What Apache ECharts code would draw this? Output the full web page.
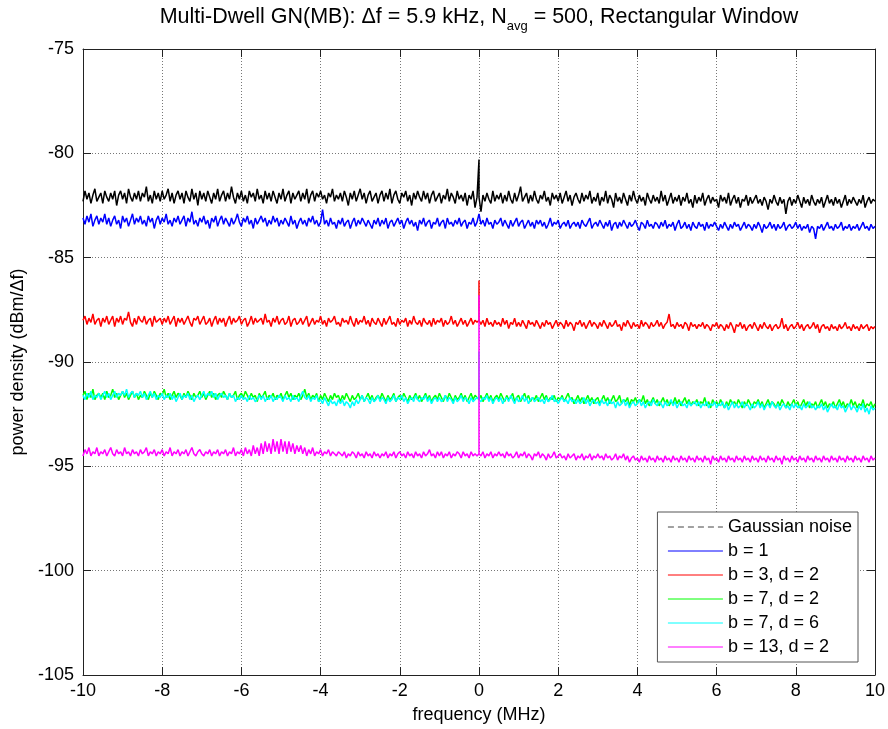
<!DOCTYPE html>
<html>
<head>
<meta charset="utf-8">
<script src="https://cdn.jsdelivr.net/npm/echarts@6/dist/echarts.min.js"></script>
<style>html,body{margin:0;padding:0;background:#fff}#c{width:888px;height:729px}</style>
</head>
<body>
<div id="c"></div>
<script>
// ---- data (dBm/Δf), sampled every 0.05 MHz from -10 to 10 MHz ----
const FREQ_START = -10, FREQ_STEP = 0.05;
const SERIES_NAMES = ['Gaussian noise', 'b = 1', 'b = 3, d = 2', 'b = 7, d = 2', 'b = 7, d = 6', 'b = 13, d = 2'];
const SPIKE_FREQ = 0;
const SPIKES = [-80.3, null, -86.1, null, -89.5, -86.8];

const gaussNoise = [
-82.3,-81.8,-82.2,-81.9,-82.4,-82.0,-81.7,-82.3,-82.1,-81.9,
-82.4,-81.8,-82.1,-82.3,-81.9,-82.2,-81.8,-82.5,-82.0,-81.8,
-82.2,-81.9,-82.4,-81.7,-82.1,-82.3,-81.9,-82.2,-81.8,-82.3,
-81.9,-82.1,-81.6,-82.3,-82.0,-82.4,-81.8,-82.2,-81.9,-82.3,
-81.8,-82.2,-82.0,-81.7,-82.3,-81.9,-82.4,-82.0,-81.8,-82.2,
-81.9,-82.4,-81.8,-82.1,-82.3,-81.7,-82.2,-81.9,-82.5,-81.8,
-82.2,-81.9,-82.3,-81.8,-82.1,-82.4,-81.9,-82.2,-81.7,-82.3,
-82.0,-81.8,-82.3,-81.9,-82.2,-81.6,-82.1,-82.4,-81.9,-82.2,
-81.8,-82.3,-82.0,-82.4,-81.8,-82.1,-81.9,-82.3,-81.7,-82.2,
-82.0,-82.4,-81.8,-82.2,-81.9,-82.3,-81.8,-82.1,-82.4,-81.9,
-82.2,-81.7,-82.3,-82.0,-81.8,-82.4,-81.9,-82.2,-82.0,-81.8,
-82.3,-81.9,-82.2,-81.7,-82.4,-82.0,-81.8,-82.3,-81.9,-82.1,
-81.8,-82.2,-82.0,-82.4,-81.9,-82.1,-81.7,-82.3,-82.0,-82.2,
-81.9,-82.3,-81.8,-82.1,-82.5,-81.9,-82.2,-81.8,-82.3,-82.0,
-81.7,-82.2,-81.9,-82.4,-82.0,-81.8,-82.3,-82.1,-81.9,-82.4,
-82.0,-81.8,-82.3,-81.9,-82.2,-81.7,-82.4,-82.0,-81.8,-82.2,
-82.4,-81.9,-82.1,-81.8,-82.3,-82.0,-82.5,-81.9,-82.2,-81.8,
-82.1,-82.3,-81.8,-82.2,-81.9,-82.4,-82.0,-81.8,-82.3,-82.1,
-81.9,-82.4,-82.0,-82.2,-81.7,-82.3,-81.9,-82.1,-82.4,-81.8,
-82.2,-82.0,-82.3,-81.9,-82.5,-82.0,-82.2,-81.8,-82.6,-82.1,
-82.1,-82.8,-82.0,-82.3,-81.9,-82.2,-82.4,-81.8,-82.3,-82.0,
-82.2,-81.9,-82.4,-82.0,-82.3,-81.8,-82.2,-82.4,-81.9,-82.3,
-82.0,-81.6,-82.3,-82.1,-81.9,-82.4,-82.0,-82.3,-81.8,-82.2,
-82.4,-82.0,-82.2,-81.8,-82.3,-82.1,-82.5,-81.9,-82.2,-82.0,
-82.3,-81.9,-82.4,-82.1,-81.8,-82.3,-82.0,-82.5,-82.1,-81.9,
-82.2,-82.4,-81.9,-82.3,-82.0,-82.2,-81.8,-82.4,-82.1,-82.3,
-81.9,-82.5,-82.1,-82.3,-81.8,-82.4,-82.0,-82.2,-82.6,-81.9,
-82.3,-82.1,-82.4,-81.9,-82.2,-82.5,-82.0,-82.3,-81.8,-82.2,
-82.4,-82.0,-82.3,-82.1,-82.5,-81.9,-82.2,-82.4,-82.0,-82.3,
-82.1,-82.4,-81.8,-82.3,-82.0,-82.5,-82.2,-81.9,-82.4,-82.1,
-82.3,-82.0,-82.5,-82.1,-82.3,-81.9,-82.4,-82.2,-82.6,-82.0,
-82.4,-82.1,-82.3,-81.9,-82.5,-82.2,-82.0,-82.4,-82.1,-82.3,
-82.2,-82.6,-82.0,-82.3,-82.1,-82.4,-81.9,-82.5,-82.2,-82.0,
-82.4,-82.1,-82.6,-82.2,-82.3,-82.0,-82.5,-82.1,-82.4,-82.2,
-82.0,-82.4,-82.2,-82.5,-82.1,-82.3,-82.7,-82.2,-82.4,-82.0,
-82.3,-82.5,-82.1,-82.4,-82.2,-82.9,-82.3,-82.1,-82.5,-82.2,
-82.4,-82.0,-82.3,-82.6,-82.1,-82.4,-82.2,-82.5,-82.0,-82.3,
-82.5,-82.2,-82.4,-82.1,-82.6,-82.3,-82.0,-82.4,-82.2,-82.5,
-82.1,-82.4,-82.2,-82.6,-82.3,-82.0,-82.5,-82.2,-82.4,-82.1,
-82.3,-82.5,-82.2,-82.4,-82.0,-82.6,-82.3,-82.1,-82.4,-82.2,
-82.3];

const b1 = [
-83.1,-83.4,-83.0,-83.3,-82.9,-83.5,-83.2,-83.0,-83.4,-83.1,
-83.3,-82.9,-83.4,-83.1,-83.5,-83.2,-83.0,-83.4,-83.2,-83.6,
-83.0,-83.3,-83.1,-83.5,-83.2,-82.9,-83.4,-83.1,-83.3,-83.0,
-83.4,-83.2,-83.5,-83.0,-83.3,-83.1,-83.6,-83.2,-83.0,-83.4,
-83.1,-83.3,-82.9,-83.4,-83.2,-83.5,-83.1,-83.3,-83.0,-83.4,
-83.2,-83.0,-83.5,-83.1,-83.3,-82.8,-83.4,-83.2,-83.5,-83.1,
-83.3,-83.0,-83.4,-83.2,-83.6,-83.1,-83.3,-83.0,-83.5,-83.2,
-83.0,-83.4,-83.1,-83.3,-83.5,-83.1,-83.4,-83.2,-82.9,-83.3,
-83.5,-83.1,-83.3,-83.0,-83.4,-83.2,-83.6,-83.1,-83.4,-83.2,
-83.0,-83.3,-83.1,-83.5,-83.2,-83.4,-83.0,-83.3,-83.1,-83.5,
-83.2,-83.4,-83.1,-83.3,-83.5,-83.0,-83.4,-83.2,-83.6,-83.3,
-83.1,-83.4,-83.2,-83.5,-83.1,-83.3,-83.0,-83.4,-83.2,-83.5,
-83.3,-82.7,-83.4,-83.2,-83.5,-83.1,-83.4,-83.3,-83.6,-83.2,
-83.4,-83.1,-83.5,-83.3,-83.2,-83.6,-83.3,-83.1,-83.5,-83.2,
-83.4,-83.1,-83.3,-83.5,-83.2,-83.4,-83.6,-83.2,-83.4,-83.1,
-83.5,-83.2,-83.4,-83.1,-83.6,-83.3,-83.2,-83.5,-83.3,-83.1,
-83.4,-83.2,-83.6,-83.3,-83.1,-83.4,-83.2,-83.5,-83.3,-83.7,
-83.2,-83.4,-83.1,-83.5,-83.3,-83.2,-83.6,-83.3,-83.4,-83.1,
-83.5,-83.3,-83.2,-83.6,-83.1,-83.4,-83.3,-83.5,-83.2,-83.4,
-83.1,-83.5,-83.3,-83.2,-83.6,-83.3,-83.4,-83.1,-83.5,-83.3,
-82.9,-83.4,-83.2,-83.5,-83.1,-83.4,-83.3,-83.6,-83.2,-83.4,
-83.3,-83.1,-83.5,-83.2,-83.4,-83.6,-83.2,-83.5,-83.3,-83.1,
-83.5,-83.3,-83.2,-83.6,-83.4,-83.2,-83.5,-83.3,-83.6,-83.2,
-83.4,-83.2,-83.5,-83.3,-83.6,-83.4,-83.1,-83.5,-83.3,-83.4,
-83.2,-83.6,-83.4,-83.3,-83.5,-83.2,-83.6,-83.4,-83.3,-83.5,
-83.3,-83.6,-83.2,-83.4,-83.5,-83.3,-83.1,-83.6,-83.4,-83.3,
-83.5,-83.2,-83.4,-83.6,-83.3,-83.5,-83.2,-83.7,-83.4,-83.3,
-83.6,-83.3,-83.5,-83.2,-83.4,-83.6,-83.3,-83.5,-83.4,-83.2,
-83.5,-83.7,-83.3,-83.4,-83.6,-83.2,-83.5,-83.4,-83.6,-83.3,
-83.4,-83.6,-83.3,-83.5,-83.2,-83.6,-83.4,-83.5,-83.3,-83.7,
-83.4,-83.2,-83.6,-83.5,-83.3,-83.6,-83.4,-83.7,-83.3,-83.5,
-83.6,-83.3,-83.5,-83.4,-83.7,-83.3,-83.6,-83.4,-83.5,-83.3,
-83.5,-83.7,-83.4,-83.6,-83.3,-83.5,-83.7,-83.4,-83.6,-83.3,
-83.5,-83.4,-83.7,-83.5,-83.3,-83.6,-83.4,-83.5,-83.7,-83.4,
-83.6,-83.3,-83.5,-83.8,-83.4,-83.6,-83.5,-83.3,-83.6,-83.4,
-83.7,-83.4,-83.6,-83.5,-83.3,-83.7,-83.5,-83.4,-83.6,-83.5,
-83.3,-83.6,-83.4,-83.7,-83.5,-83.6,-83.4,-83.8,-83.5,-83.6,
-84.1,-83.5,-83.6,-83.4,-83.7,-83.5,-83.3,-83.6,-83.5,-83.7,
-83.4,-83.6,-83.5,-83.3,-83.7,-83.5,-83.6,-83.4,-83.7,-83.5,
-83.6,-83.4,-83.7,-83.5,-83.3,-83.6,-83.5,-83.7,-83.4,-83.6,
-83.5];

const b3d2 = [
-88.0,-87.8,-88.2,-87.9,-88.1,-87.7,-88.2,-88.0,-87.9,-88.3,
-87.9,-88.1,-87.8,-88.2,-88.0,-87.8,-88.3,-87.9,-88.1,-87.8,
-88.2,-87.9,-88.0,-87.6,-88.1,-88.3,-87.9,-88.2,-87.8,-88.0,
-88.1,-87.8,-88.2,-88.0,-87.9,-88.3,-87.8,-88.1,-88.0,-87.9,
-88.2,-87.9,-88.1,-87.8,-88.2,-88.0,-87.8,-88.3,-87.9,-88.1,
-87.9,-88.2,-88.0,-87.8,-88.1,-88.3,-87.9,-88.0,-87.8,-88.2,
-88.0,-87.8,-88.2,-88.1,-87.9,-88.3,-88.0,-87.8,-88.2,-87.9,
-88.1,-87.9,-88.3,-88.0,-87.8,-88.2,-87.9,-88.1,-88.0,-87.8,
-88.2,-88.0,-87.9,-88.3,-88.1,-87.8,-88.2,-87.9,-88.1,-88.0,
-87.9,-88.2,-87.7,-88.1,-88.0,-88.3,-87.9,-88.1,-87.8,-88.2,
-88.0,-87.9,-88.2,-88.1,-87.8,-88.3,-88.0,-87.9,-88.2,-88.1,
-87.9,-88.2,-88.0,-87.8,-88.3,-88.1,-87.9,-88.2,-88.0,-88.1,
-87.8,-88.2,-88.0,-88.3,-87.9,-88.1,-88.0,-87.8,-88.2,-88.1,
-88.3,-87.9,-88.1,-88.0,-88.2,-87.8,-88.1,-88.3,-87.9,-88.2,
-88.0,-88.1,-87.8,-88.2,-88.0,-88.3,-87.9,-88.1,-88.2,-87.9,
-88.1,-88.3,-87.9,-88.2,-88.0,-87.8,-88.2,-88.1,-88.3,-87.9,
-88.2,-88.0,-88.1,-87.9,-88.3,-88.0,-88.2,-87.8,-88.1,-88.2,
-88.0,-88.3,-87.9,-88.1,-88.2,-88.0,-88.3,-87.9,-88.2,-88.0,
-88.1,-87.9,-88.3,-88.0,-88.2,-88.1,-87.8,-88.2,-88.0,-88.3,
-88.1,-87.9,-88.2,-88.0,-88.3,-88.1,-87.9,-88.2,-88.0,-88.1,
-88.0,-88.2,-88.0,-88.3,-87.9,-88.2,-88.1,-88.3,-88.0,-88.2,
-88.1,-88.3,-87.9,-88.2,-88.0,-88.4,-88.1,-88.2,-87.9,-88.3,
-88.1,-88.3,-88.0,-88.2,-88.4,-88.0,-88.2,-88.1,-88.3,-88.0,
-88.2,-88.4,-88.1,-88.3,-88.0,-88.2,-88.1,-88.4,-88.2,-88.0,
-88.3,-88.1,-88.2,-88.4,-88.0,-88.3,-88.1,-88.2,-88.5,-88.1,
-88.2,-88.0,-88.3,-88.1,-88.4,-88.2,-88.0,-88.3,-88.1,-88.2,
-88.4,-88.1,-88.3,-88.0,-88.2,-88.4,-88.1,-88.3,-88.2,-88.0,
-88.3,-88.2,-88.5,-88.1,-88.3,-88.0,-88.2,-88.4,-88.1,-88.3,
-88.2,-88.4,-88.0,-88.3,-88.1,-88.2,-88.4,-88.1,-88.3,-88.2,
-88.0,-88.3,-88.1,-88.4,-88.2,-88.1,-87.7,-88.3,-88.2,-88.4,
-88.1,-88.3,-88.2,-88.4,-88.1,-88.2,-88.5,-88.1,-88.3,-88.2,
-88.4,-88.2,-88.3,-88.1,-88.4,-88.2,-88.3,-88.5,-88.2,-88.3,
-88.1,-88.4,-88.2,-88.3,-88.5,-88.2,-88.4,-88.1,-88.3,-88.6,
-88.2,-88.3,-88.1,-88.4,-88.2,-88.5,-88.3,-88.2,-88.4,-88.1,
-88.3,-88.5,-88.2,-88.4,-88.1,-88.3,-88.4,-88.2,-88.5,-88.3,
-88.2,-88.4,-88.3,-87.9,-88.4,-88.2,-88.5,-88.3,-88.2,-88.4,
-88.3,-88.1,-88.4,-88.2,-88.5,-88.3,-88.2,-88.4,-88.3,-88.1,
-88.4,-88.2,-88.6,-88.3,-88.2,-88.4,-88.3,-88.5,-88.2,-88.4,
-88.3,-88.5,-88.2,-88.4,-88.3,-88.1,-88.4,-88.3,-88.5,-88.2,
-88.4,-88.3,-88.5,-88.2,-88.4,-88.3,-88.2,-88.5,-88.3,-88.4,
-88.3];

const b7d2 = [
-91.6,-91.4,-91.8,-91.5,-91.7,-91.3,-91.8,-91.6,-91.5,-91.7,
-91.5,-91.8,-91.4,-91.7,-91.6,-91.3,-91.7,-91.5,-91.8,-91.6,
-91.4,-91.7,-91.5,-91.8,-91.6,-91.4,-91.7,-91.5,-91.8,-91.6,
-91.7,-91.4,-91.6,-91.8,-91.5,-91.7,-91.4,-91.6,-91.8,-91.5,
-91.6,-91.3,-91.7,-91.5,-91.8,-91.6,-91.4,-91.7,-91.5,-91.6,
-91.8,-91.5,-91.7,-91.4,-91.6,-91.8,-91.5,-91.7,-91.6,-91.4,
-91.7,-91.5,-91.8,-91.6,-91.4,-91.7,-91.5,-91.8,-91.6,-91.5,
-91.7,-91.4,-91.6,-91.8,-91.5,-91.7,-91.6,-91.4,-91.8,-91.6,
-91.5,-91.7,-91.4,-91.6,-91.8,-91.5,-91.7,-91.6,-91.9,-91.5,
-91.7,-91.6,-91.4,-91.8,-91.6,-91.7,-91.5,-91.8,-91.6,-91.7,
-91.5,-91.8,-91.6,-91.4,-91.7,-91.5,-91.8,-91.6,-91.7,-91.5,
-91.8,-91.6,-91.3,-91.7,-91.5,-91.8,-91.6,-91.7,-91.5,-91.9,
-91.6,-91.8,-91.5,-91.7,-91.9,-91.6,-91.8,-91.5,-91.7,-91.6,
-91.9,-91.6,-91.8,-91.5,-91.7,-91.9,-91.6,-91.8,-91.7,-91.5,
-91.8,-91.6,-91.9,-91.7,-91.5,-91.8,-91.6,-91.9,-91.7,-91.6,
-91.8,-91.5,-91.7,-91.9,-91.6,-91.8,-91.7,-91.5,-91.9,-91.7,
-91.6,-91.8,-91.5,-91.7,-91.9,-91.6,-91.8,-91.7,-91.5,-91.8,
-91.6,-91.9,-91.7,-91.5,-91.8,-91.6,-91.9,-91.7,-91.6,-91.8,
-91.5,-91.7,-91.9,-91.6,-91.8,-91.5,-91.7,-91.9,-91.6,-91.8,
-91.7,-91.5,-91.8,-91.6,-91.9,-91.7,-91.5,-91.8,-91.6,-91.7,
-91.8,-91.6,-91.9,-91.7,-91.5,-91.8,-91.6,-91.9,-91.7,-91.6,
-91.8,-91.5,-91.7,-91.9,-91.6,-91.8,-91.7,-91.5,-91.9,-91.7,
-91.6,-91.9,-91.7,-91.5,-91.8,-91.6,-91.9,-91.7,-91.8,-91.6,
-91.9,-91.7,-91.5,-91.8,-91.6,-91.9,-91.7,-91.8,-91.6,-91.9,
-91.7,-91.8,-91.6,-91.9,-91.7,-91.5,-91.8,-91.7,-92.0,-91.8,
-91.6,-91.9,-91.7,-92.0,-91.8,-91.6,-91.9,-91.7,-92.0,-91.8,
-91.7,-92.0,-91.8,-91.6,-91.9,-91.7,-92.0,-91.8,-91.6,-91.9,
-91.8,-91.6,-92.0,-91.8,-91.9,-91.7,-92.1,-91.8,-91.9,-91.7,
-92.0,-91.8,-91.9,-91.6,-92.0,-91.8,-92.1,-91.9,-91.7,-92.0,
-91.8,-92.1,-91.9,-91.7,-92.0,-91.8,-92.1,-91.9,-92.0,-91.7,
-92.0,-91.8,-92.1,-91.9,-91.7,-92.0,-91.8,-92.1,-91.9,-92.0,
-91.8,-92.1,-91.9,-92.0,-91.7,-92.1,-91.9,-92.2,-91.8,-92.0,
-91.9,-92.1,-91.8,-92.0,-92.2,-91.9,-92.1,-91.8,-92.0,-91.9,
-92.1,-91.8,-92.0,-92.2,-91.9,-92.1,-91.8,-92.0,-92.2,-91.9,
-92.0,-91.8,-92.1,-91.9,-92.2,-92.0,-91.8,-92.1,-91.9,-92.0,
-92.2,-91.9,-92.1,-91.8,-92.0,-92.2,-91.9,-92.1,-92.0,-91.8,
-92.1,-91.9,-92.2,-92.0,-91.8,-92.1,-91.9,-92.2,-92.0,-92.1,
-91.9,-92.2,-92.0,-91.8,-92.1,-91.9,-92.2,-92.0,-92.1,-91.9,
-92.2,-92.0,-91.8,-92.1,-91.9,-92.2,-92.0,-92.1,-91.8,-92.1,
-91.9,-92.2,-92.0,-92.1,-91.8,-92.2,-92.0,-92.1,-91.9,-92.2,
-92.0];

const b7d6 = [
-91.6,-91.8,-91.5,-91.7,-91.4,-91.8,-91.6,-91.7,-91.5,-91.8,
-91.6,-91.4,-91.7,-91.5,-91.8,-91.6,-91.4,-91.7,-91.5,-91.6,
-91.4,-91.6,-91.3,-91.7,-91.5,-91.4,-91.7,-91.5,-91.6,-91.4,
-91.7,-91.5,-91.8,-91.6,-91.4,-91.7,-91.5,-91.8,-91.6,-91.7,
-91.5,-91.8,-91.6,-91.7,-91.5,-91.8,-91.6,-91.9,-91.7,-91.5,
-91.8,-91.6,-91.7,-91.5,-91.8,-91.6,-91.9,-91.7,-91.6,-91.8,
-91.6,-91.4,-91.7,-91.5,-91.6,-91.4,-91.7,-91.5,-91.8,-91.6,
-91.5,-91.7,-91.6,-91.8,-91.5,-91.7,-91.6,-91.9,-91.7,-91.8,
-91.6,-91.8,-91.7,-91.9,-91.6,-91.8,-91.7,-91.9,-91.8,-91.6,
-91.8,-91.6,-91.9,-91.7,-91.8,-91.6,-91.9,-91.7,-91.8,-91.6,
-91.7,-91.9,-91.6,-91.8,-91.7,-91.9,-91.6,-91.8,-91.7,-91.9,
-91.6,-91.4,-91.7,-91.8,-91.6,-91.9,-91.7,-91.8,-91.6,-91.9,
-91.8,-92.0,-91.7,-91.9,-92.1,-91.8,-92.0,-91.9,-92.1,-91.8,
-92.0,-91.8,-92.1,-91.9,-92.0,-92.2,-91.9,-92.1,-91.8,-92.0,
-91.8,-91.6,-91.9,-91.7,-91.8,-92.0,-91.7,-91.9,-91.8,-91.6,
-91.9,-91.7,-91.8,-92.0,-91.7,-91.9,-91.8,-91.6,-91.9,-91.7,
-91.8,-91.6,-91.9,-91.7,-92.0,-91.8,-91.7,-91.9,-91.6,-91.8,
-91.9,-91.7,-91.8,-91.6,-91.9,-91.7,-92.0,-91.8,-91.7,-91.9,
-91.7,-91.9,-91.8,-91.6,-91.9,-91.7,-91.8,-92.0,-91.7,-91.9,
-91.8,-91.6,-91.9,-91.7,-91.8,-92.0,-91.7,-91.9,-91.8,-91.7,
-91.8,-91.9,-91.7,-91.8,-91.6,-91.9,-91.7,-92.0,-91.8,-91.7,
-91.9,-91.7,-92.0,-91.8,-91.7,-91.9,-91.6,-91.8,-92.0,-91.7,
-91.9,-91.8,-91.6,-91.9,-91.7,-92.0,-91.8,-91.7,-91.9,-91.8,
-91.7,-91.9,-91.8,-92.0,-91.7,-91.9,-91.8,-91.6,-91.9,-91.8,
-92.0,-91.8,-91.7,-91.9,-91.8,-92.0,-91.7,-91.9,-91.8,-92.0,
-91.8,-92.0,-91.9,-91.7,-92.0,-91.8,-92.1,-91.9,-91.8,-92.0,
-91.9,-92.1,-91.8,-92.0,-91.9,-92.1,-91.8,-92.0,-91.9,-92.2,
-91.9,-92.1,-92.0,-91.8,-92.1,-91.9,-92.2,-92.0,-91.9,-92.1,
-92.0,-91.8,-92.1,-91.9,-92.2,-92.0,-91.9,-92.1,-91.8,-92.0,
-92.1,-91.9,-92.0,-92.2,-91.9,-92.1,-92.0,-91.8,-92.1,-91.9,
-92.2,-92.0,-91.9,-92.1,-92.0,-92.2,-91.9,-92.1,-92.0,-91.9,
-92.1,-91.9,-92.2,-92.0,-92.1,-91.9,-92.2,-92.0,-92.1,-91.9,
-92.2,-92.0,-92.1,-91.9,-92.2,-92.0,-92.3,-92.1,-91.9,-92.2,
-92.0,-92.2,-92.1,-91.9,-92.2,-92.0,-92.1,-92.3,-92.0,-92.2,
-92.1,-91.9,-92.2,-92.0,-92.3,-92.1,-92.0,-92.2,-91.9,-92.1,
-92.2,-92.0,-92.3,-92.1,-92.0,-92.2,-92.1,-92.3,-92.0,-92.2,
-92.0,-92.2,-92.1,-92.3,-92.0,-92.2,-92.1,-91.9,-92.2,-92.1,
-92.3,-92.1,-92.2,-92.0,-92.3,-92.1,-92.4,-92.2,-92.0,-92.2,
-92.1,-92.3,-92.0,-92.2,-92.1,-92.4,-92.2,-92.0,-92.3,-92.1,
-92.2,-92.4,-92.1,-92.3,-92.0,-92.4,-92.2,-92.5,-92.1,-92.3,
-92.2];

const b13d2 = [
-94.5,-94.2,-94.4,-94.1,-94.5,-94.3,-94.4,-94.1,-94.5,-94.3,
-94.4,-94.2,-94.5,-94.3,-94.1,-94.4,-94.5,-94.2,-94.4,-94.3,
-94.5,-94.1,-94.4,-94.3,-94.5,-94.2,-94.4,-94.3,-94.5,-94.2,
-94.4,-94.3,-94.1,-94.5,-94.3,-94.4,-94.2,-94.5,-94.3,-94.4,
-94.2,-94.5,-94.3,-94.4,-94.1,-94.5,-94.3,-94.4,-94.2,-94.5,
-94.3,-94.4,-94.2,-94.5,-94.3,-94.1,-94.4,-94.5,-94.3,-94.2,
-94.4,-94.5,-94.3,-94.4,-94.2,-94.5,-94.3,-94.4,-94.2,-94.5,
-94.3,-94.4,-94.2,-94.5,-94.3,-94.4,-94.1,-94.5,-94.3,-94.4,
-94.2,-94.5,-94.1,-94.4,-94.2,-94.5,-94.0,-94.4,-94.1,-94.5,
-93.9,-94.4,-93.8,-94.3,-93.9,-94.4,-93.7,-94.3,-93.8,-94.4,
-93.7,-94.3,-93.8,-94.4,-93.8,-94.3,-93.9,-94.4,-94.0,-94.3,
-94.0,-94.4,-94.1,-94.5,-94.2,-94.4,-94.1,-94.5,-94.3,-94.4,
-94.2,-94.5,-94.3,-94.4,-94.2,-94.5,-94.3,-94.4,-94.5,-94.3,
-94.4,-94.5,-94.3,-94.6,-94.4,-94.5,-94.3,-94.4,-94.6,-94.3,
-94.5,-94.4,-94.6,-94.3,-94.5,-94.4,-94.6,-94.3,-94.5,-94.4,
-94.6,-94.4,-94.5,-94.3,-94.6,-94.4,-94.5,-94.3,-94.6,-94.4,
-94.3,-94.5,-94.4,-94.6,-94.3,-94.5,-94.4,-94.6,-94.3,-94.5,
-94.4,-94.6,-94.3,-94.5,-94.4,-94.2,-94.5,-94.4,-94.6,-94.3,
-94.5,-94.3,-94.6,-94.4,-94.5,-94.3,-94.6,-94.4,-94.5,-94.3,
-94.4,-94.6,-94.3,-94.5,-94.4,-94.6,-94.3,-94.5,-94.4,-94.5,
-94.4,-94.5,-94.3,-94.6,-94.4,-94.5,-94.3,-94.6,-94.4,-94.5,
-94.3,-94.5,-94.4,-94.6,-94.3,-94.5,-94.4,-94.6,-94.5,-94.3,
-94.6,-94.4,-94.5,-94.3,-94.6,-94.4,-94.5,-94.7,-94.4,-94.5,
-94.3,-94.6,-94.4,-94.5,-94.7,-94.4,-94.6,-94.5,-94.3,-94.6,
-94.5,-94.4,-94.6,-94.5,-94.7,-94.4,-94.6,-94.5,-94.4,-94.7,
-94.5,-94.6,-94.4,-94.7,-94.5,-94.6,-94.4,-94.7,-94.5,-94.6,
-94.4,-94.6,-94.5,-94.7,-94.4,-94.6,-94.5,-94.7,-94.6,-94.4,
-94.7,-94.5,-94.6,-94.4,-94.7,-94.5,-94.8,-94.6,-94.5,-94.7,
-94.6,-94.8,-94.5,-94.7,-94.6,-94.8,-94.5,-94.7,-94.6,-94.8,
-94.5,-94.7,-94.6,-94.8,-94.5,-94.7,-94.6,-94.8,-94.5,-94.7,
-94.6,-94.8,-94.5,-94.7,-94.6,-94.8,-94.5,-94.7,-94.6,-94.8,
-94.5,-94.7,-94.6,-94.8,-94.5,-94.7,-94.6,-94.9,-94.5,-94.7,
-94.6,-94.8,-94.5,-94.7,-94.6,-94.8,-94.5,-94.7,-94.6,-94.8,
-94.5,-94.7,-94.6,-94.8,-94.5,-94.7,-94.6,-94.8,-94.5,-94.7,
-94.6,-94.8,-94.5,-94.7,-94.6,-94.8,-94.5,-94.7,-94.6,-94.8,
-94.5,-94.7,-94.6,-94.9,-94.5,-94.7,-94.6,-94.8,-94.5,-94.7,
-94.6,-94.8,-94.5,-94.7,-94.6,-94.8,-94.5,-94.7,-94.6,-94.8,
-94.5,-94.7,-94.6,-94.8,-94.5,-94.7,-94.6,-94.8,-94.5,-94.7,
-94.6,-94.8,-94.5,-94.7,-94.6,-94.8,-94.5,-94.7,-94.6,-94.8,
-94.5,-94.7,-94.6,-94.8,-94.5,-94.7,-94.6,-94.8,-94.5,-94.7,
-94.6];

const SERIES_VALUES = [gaussNoise, b1, b3d2, b7d2, b7d6, b13d2];
const COLORS = ['#000000', '#0000ff', '#ff0000', '#00ff00', '#00ffff', '#ff00ff'];
const X_TICKS = { min: -10, max: 10, interval: 2 };
const Y_TICKS = { min: -105, max: -75, interval: 5 };

function buildData(vals, spike) {
  const out = [];
  vals.forEach((v, i) => {
    const f = +(FREQ_START + i * FREQ_STEP).toFixed(3);
    out.push([f, v]);
    if (f === SPIKE_FREQ && spike != null) {
      out.push([f, spike]);
      out.push([f, v]);
    }
  });
  return out;
}

const FONT = '"Liberation Sans", Arial, Helvetica, sans-serif';
const chart = echarts.init(document.getElementById('c'), null, { renderer: 'canvas' });

const gridLine = { show: true, lineStyle: { color: '#777', type: [1, 2], width: 1 } };
const axisLine = { show: true, onZero: false, lineStyle: { color: '#222', width: 1 } };
const tick = { show: true, inside: true, length: 8, lineStyle: { color: '#222' } };

chart.setOption({
  animation: false,
  backgroundColor: '#fff',
  textStyle: { fontFamily: FONT },
  grid: { left: 83, right: 12, top: 49, bottom: 54, containLabel: false },
  graphic: [{
    type: 'text',
    x: 479, y: 6,
    style: {
      text: '{m|Multi-Dwell GN(MB): \u0394f = 5.9 kHz, N}{s|avg}{m| = 500, Rectangular Window}',
      align: 'center',
      verticalAlign: 'top',
      rich: {
        m: { fontFamily: FONT, fontSize: 21.5, fill: '#000', verticalAlign: 'top', lineHeight: 24 },
        s: { fontFamily: FONT, fontSize: 13, fill: '#000', verticalAlign: 'top', padding: [14, 0, 0, 0], lineHeight: 24 }
      }
    }
  }],
  legend: {
    right: 30, bottom: 67,
    orient: 'vertical',
    align: 'left',
    backgroundColor: '#fff',
    borderColor: '#555',
    borderWidth: 1,
    borderRadius: 0,
    padding: [6, 6, 6, 10],
    itemWidth: 55,
    itemHeight: 18,
    itemGap: 6,
    itemStyle: { opacity: 0 },
    lineStyle: { width: 1 },
    textStyle: { fontFamily: FONT, fontSize: 18, color: '#000' },
    data: SERIES_NAMES.map((n, i) => i === 0
      ? { name: n, itemStyle: { opacity: 0 }, lineStyle: { type: [6, 4], color: '#444', width: 1 } }
      : { name: n, itemStyle: { opacity: 0 }, lineStyle: { width: 1 } })
  },
  xAxis: [{
    type: 'value', position: 'bottom',
    min: X_TICKS.min, max: X_TICKS.max, interval: X_TICKS.interval,
    axisLine: axisLine, axisTick: tick,
    axisLabel: { fontFamily: FONT, fontSize: 18, color: '#000', margin: 7 },
    splitLine: gridLine,
    name: 'frequency (MHz)', nameLocation: 'middle', nameGap: 31,
    nameTextStyle: { fontFamily: FONT, fontSize: 18, color: '#000' }
  }, {
    type: 'value', position: 'top',
    min: X_TICKS.min, max: X_TICKS.max, interval: X_TICKS.interval,
    axisLine: axisLine, axisTick: tick,
    axisLabel: { show: false }, splitLine: { show: false }
  }],
  yAxis: [{
    type: 'value', position: 'left',
    min: Y_TICKS.min, max: Y_TICKS.max, interval: Y_TICKS.interval,
    axisLine: axisLine, axisTick: tick,
    axisLabel: { fontFamily: FONT, fontSize: 18, color: '#000', margin: 9 },
    splitLine: gridLine,
    name: 'power density (dBm/\u0394f)', nameLocation: 'middle', nameGap: 49,
    nameTextStyle: { fontFamily: FONT, fontSize: 18, color: '#000' }
  }, {
    type: 'value', position: 'right',
    min: Y_TICKS.min, max: Y_TICKS.max, interval: Y_TICKS.interval,
    axisLine: axisLine, axisTick: tick,
    axisLabel: { show: false }, splitLine: { show: false }
  }],
  series: SERIES_NAMES.map((n, i) => ({
    name: n,
    type: 'line',
    xAxisIndex: 0, yAxisIndex: 0,
    data: buildData(SERIES_VALUES[i], SPIKES[i]),
    symbol: 'none',
    showSymbol: false,
    smooth: false,
    lineStyle: { color: COLORS[i], width: 1.5 },
    itemStyle: { color: COLORS[i] },
    z: 2 + i
  }))
});
</script>
</body>
</html>
